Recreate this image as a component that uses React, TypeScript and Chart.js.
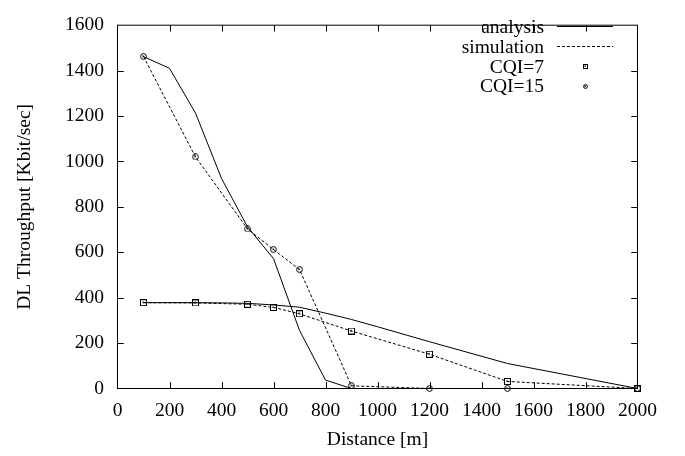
import React, { useEffect, useRef } from 'react';
import { Chart, registerables } from 'chart.js';

Chart.register(...registerables);

// ---- data ----
const analysisDistances = [100, 200, 300, 400, 500, 600, 700, 800, 900, 1000, 1200, 1500, 2000];
const analysisCqi7 = [378, 378, 378, 377, 375, 368, 358, 332, 304, 272, 206, 110, 0];
const analysisCqi15 = [1462, 1410, 1213, 925, 712, 572, 256, 37, 0, 0, 0, 0, 0];

const simDistances = [100, 300, 500, 600, 700, 900, 1200, 1500, 2000];
const simCqi7 = [378, 377, 371, 357, 329, 253, 151, 31, 0];
const simCqi15 = [1462, 1020, 703, 612, 524, 12, 0, 0, 0];

const legendLabels = ['analysis', 'simulation', 'CQI=7', 'CQI=15'];
const xTitle = 'Distance [m]';
const yTitle = 'DL Throughput [Kbit/sec]';
const xMin = 0, xMax = 2000, xStep = 200;
const yMin = 0, yMax = 1600, yStep = 200;

const FONT = '"Liberation Serif", "Times New Roman", serif';
const FONT_SIZE = 19.5;

function makeMarker(shape: 'square' | 'circle', size: number): HTMLCanvasElement {
  const c = document.createElement('canvas');
  c.width = size;
  c.height = size;
  const g = c.getContext('2d')!;
  g.strokeStyle = '#000';
  g.fillStyle = '#000';
  g.lineWidth = 1;
  const h = size / 2;
  if (shape === 'square') {
    g.strokeRect(0.5, 0.5, size - 1, size - 1);
  } else {
    g.beginPath();
    g.arc(h, h, h - 0.6, 0, Math.PI * 2);
    g.stroke();
  }
  g.fillRect(Math.floor(h) - 0.5, Math.floor(h) - 0.5, 1.4, 1.4);
  return c;
}

const pts = (xs: number[], ys: number[]) => xs.map((x, i) => ({ x, y: ys[i] }));

export default function App() {
  const ref = useRef<HTMLCanvasElement>(null);

  useEffect(() => {
    const sq = makeMarker('square', 7);
    const ci = makeMarker('circle', 7);
    const sqSmall = makeMarker('square', 5);
    const ciSmall = makeMarker('circle', 5);

    const framePlugin = {
      id: 'gnuplotFrame',
      afterDraw(chart: any) {
        const { ctx, chartArea } = chart;
        const { left, right, top, bottom } = chartArea;
        const xs = chart.scales.x;
        const ys = chart.scales.y;
        ctx.save();
        ctx.strokeStyle = '#000';
        ctx.lineWidth = 1;
        ctx.setLineDash([]);
        ctx.strokeRect(left, top, right - left, bottom - top);
        const tl = 6.3;
        ctx.beginPath();
        for (let v = xMin + xStep; v < xMax; v += xStep) {
          const px = Math.round(xs.getPixelForValue(v)) + 0.5;
          ctx.moveTo(px, bottom);
          ctx.lineTo(px, bottom - tl);
          ctx.moveTo(px, top);
          ctx.lineTo(px, top + tl);
        }
        for (let v = yMin + yStep; v < yMax; v += yStep) {
          const py = Math.round(ys.getPixelForValue(v)) + 0.5;
          ctx.moveTo(left, py);
          ctx.lineTo(left + tl, py);
          ctx.moveTo(right, py);
          ctx.lineTo(right - tl, py);
        }
        ctx.stroke();

        // key (gnuplot style)
        const textRight = 544;
        const sampleL = 557, sampleR = 613, markX = 585;
        const base0 = 32.7, step = 19.9;
        ctx.font = `${FONT_SIZE}px ${FONT}`;
        ctx.fillStyle = '#000';
        ctx.textAlign = 'right';
        ctx.textBaseline = 'alphabetic';
        legendLabels.forEach((lab, i) => {
          const b = base0 + i * step;
          ctx.fillText(lab, textRight, b);
          const cy = Math.round(b - 6.8) + 0.5;
          if (i === 0 || i === 1) {
            ctx.beginPath();
            ctx.setLineDash(i === 1 ? [3, 2] : []);
            ctx.moveTo(sampleL, cy);
            ctx.lineTo(sampleR, cy);
            ctx.stroke();
            ctx.setLineDash([]);
          } else {
            const m = i === 2 ? sqSmall : ciSmall;
            ctx.drawImage(m, Math.round(markX - m.width / 2), Math.round(cy - 0.5 - m.height / 2));
          }
        });
        ctx.restore();
      },
    };

    const lineBase = {
      borderColor: '#000',
      backgroundColor: '#000',
      borderWidth: 1,
      tension: 0,
      fill: false,
      clip: false as any,
    };

    const plain = (v: any) => String(v);

    const chart = new Chart(ref.current!, {
      type: 'line',
      data: {
        datasets: [
          { ...lineBase, label: 'analysis CQI=7', data: pts(analysisDistances, analysisCqi7), pointRadius: 0 },
          { ...lineBase, label: 'analysis CQI=15', data: pts(analysisDistances, analysisCqi15), pointRadius: 0 },
          {
            ...lineBase, label: 'simulation CQI=7', data: pts(simDistances, simCqi7),
            borderDash: [3, 2], pointStyle: sq as any, pointRadius: 4,
          },
          {
            ...lineBase, label: 'simulation CQI=15', data: pts(simDistances, simCqi15),
            borderDash: [3, 2], pointStyle: ci as any, pointRadius: 4,
          },
        ],
      },
      options: {
        animation: false,
        responsive: false,
        events: [],
        layout: { padding: { left: 0, top: 11.5, right: 47.5, bottom: 0 } },
        plugins: { legend: { display: false }, tooltip: { enabled: false } },
        scales: {
          x: {
            type: 'linear',
            min: xMin,
            max: xMax,
            afterFit: (s: any) => { s.height = 67.5; },
            grid: { display: false, drawTicks: false },
            border: { display: false },
            ticks: { stepSize: xStep, autoSkip: false, maxRotation: 0, callback: plain, color: '#000', padding: 11, font: { family: FONT, size: FONT_SIZE } },
            title: { display: true, text: xTitle, color: '#000', padding: { top: 0, bottom: 4 }, font: { family: FONT, size: FONT_SIZE } },
          },
          y: {
            type: 'linear',
            min: yMin,
            max: yMax,
            afterFit: (s: any) => { s.width = 117.5; },
            grid: { display: false, drawTicks: false },
            border: { display: false },
            ticks: { stepSize: yStep, callback: plain, color: '#000', padding: 13.5, font: { family: FONT, size: FONT_SIZE } },
            title: { display: true, text: yTitle, color: '#000', padding: { top: 13, bottom: 0 }, font: { family: FONT, size: FONT_SIZE } },
          },
        },
      },
      plugins: [framePlugin],
    });
    return () => chart.destroy();
  }, []);

  return (
    <div style={{ position: 'absolute', left: 0, top: 0, width: 685, height: 456, background: '#fff' }}>
      <canvas ref={ref} width={685} height={456} style={{ display: 'block' }} />
    </div>
  );
}
